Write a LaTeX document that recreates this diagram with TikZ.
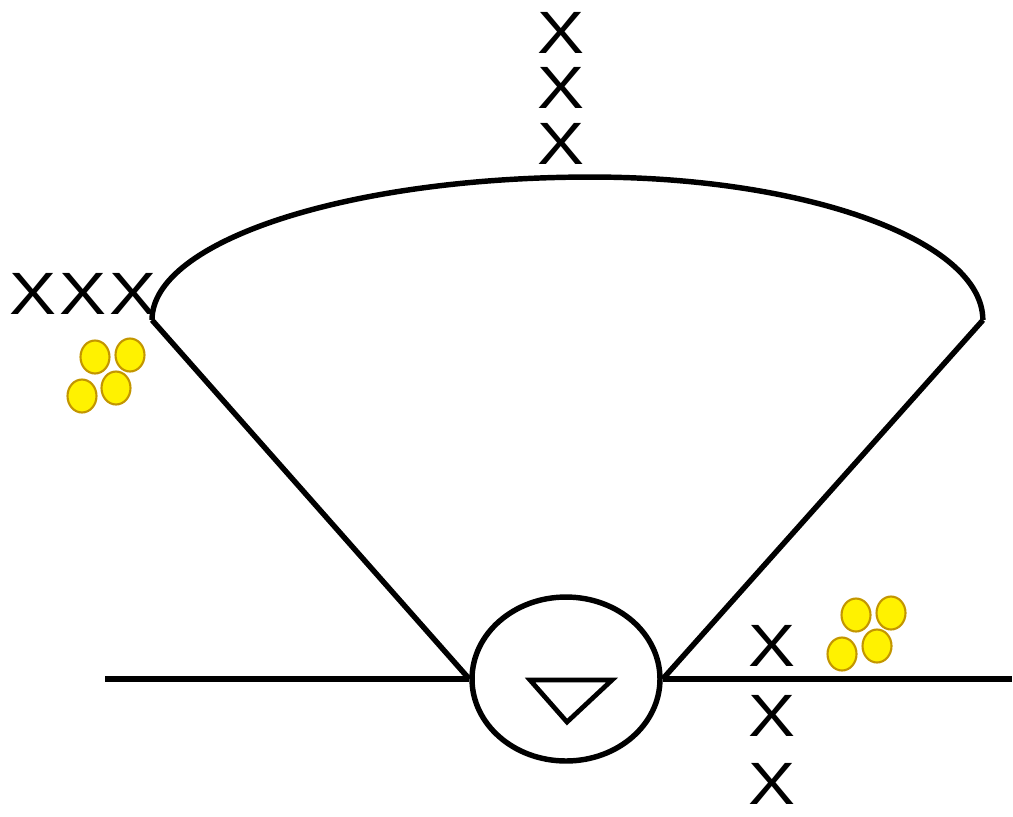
\documentclass[tikz,border=0pt]{standalone}
\usepackage{fontspec}
\setmainfont{Liberation Sans}
\newfontfamily\widefont[FakeStretch=1.18]{Liberation Sans}
\usetikzlibrary{shapes.geometric}
\definecolor{goldrim}{RGB}{195,150,0}
\tikzset{
  xmark/.style={font=\widefont\fontsize{34}{34}\selectfont,inner sep=0pt},
  coin/.style={draw=goldrim,fill=yellow,line width=1.2pt,ellipse,minimum width=0.58cm,minimum height=0.66cm,inner sep=0pt}
}
\begin{document}
\begin{tikzpicture}[x=0.02cm,y=-0.02cm,line width=3.1pt]
\useasboundingbox (0,0) rectangle (1013,816);
% hub with triangle
\node[draw,ellipse,minimum width=3.76cm,minimum height=3.28cm,inner sep=0pt] (hub) at (566,679) {};
\coordinate (triL) at (530,680);
\coordinate (triR) at (612,680);
\coordinate (triB) at (567,722);
\draw[line width=2.7pt,line join=miter] (triL) -- (triR) -- (triB) -- cycle;
% ground line
\coordinate (gndL) at (105,679);
\coordinate (gndR) at (1012,679);
\draw (gndL) -- (hub.west);
\draw (hub.east) -- (gndR);
% fan
\coordinate (fanL) at (152,320);
\coordinate (fanR) at (983,320);
\draw (hub.west) -- (fanL);
\draw (hub.east) -- (fanR);
\draw (fanL) arc[start angle=180,end angle=90,x radius=8.78cm,y radius=2.86cm]
  arc[start angle=90,end angle=0,x radius=7.84cm,y radius=2.86cm];
% marks
\node[xmark] (t1) at (561,33) {X};
\node[xmark] (t2) at (561,88) {X};
\node[xmark] (t3) at (561,144) {X};
\node[xmark] (lft) at (83,294) {X\kern0.05em X\kern0.05em X};
\node[xmark] (r1) at (772,646) {X};
\node[xmark] (r2) at (772,716) {X};
\node[xmark] (r3) at (772,784) {X};
% coins
\node[coin] (cl1) at (95,357) {};
\node[coin] (cl2) at (130,355) {};
\node[coin] (cl3) at (82,396) {};
\node[coin] (cl4) at (116,388) {};
\node[coin] (cr1) at (856,615) {};
\node[coin] (cr2) at (891,613) {};
\node[coin] (cr3) at (842,654) {};
\node[coin] (cr4) at (877,646) {};
\end{tikzpicture}
\end{document}
